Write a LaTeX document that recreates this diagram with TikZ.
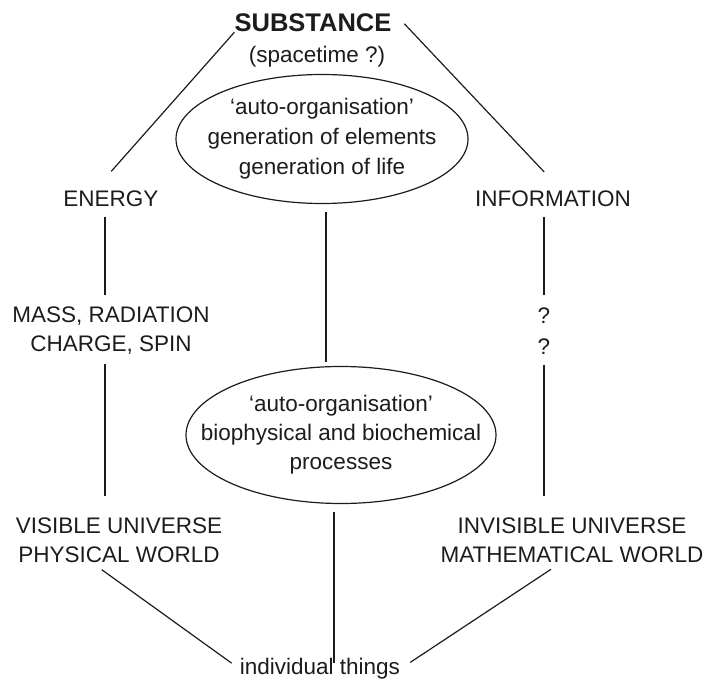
\documentclass[tikz,border=0pt]{standalone}
\usepackage{fontspec}
\setmainfont{Liberation Sans}
\usepackage{tikz}
\usetikzlibrary{shapes,calc}
\definecolor{ink}{RGB}{28,28,28}

\begin{document}
\begin{tikzpicture}[x=1pt,y=-1pt,
    every node/.style={inner sep=0pt,align=center,text=ink,font=\fontsize{22.5}{29}\selectfont},
    oval/.style={draw=ink,ellipse,line width=1.2pt,inner xsep=-40pt,inner ysep=-10pt},
    link/.style={draw=ink,line width=1.2pt}]

    \useasboundingbox (0,0) rectangle (710,682);

    \node[font=\fontsize{25.5}{30}\selectfont\bfseries] (subst) at (313,23) {SUBSTANCE};
    \node (space) at (317,57) {(spacetime ?)};
    \node[oval,minimum width=292pt,minimum height=129pt] (ell1) at (322,139)
        {‘auto-organisation’\\[1pt]generation of elements\\[1pt]generation of life};

    \node (energy) at (111,199) {ENERGY};
    \node (info) at (553,199) {INFORMATION};
    \node (mass) at (111,331) {MASS, RADIATION\\CHARGE, SPIN};
    \node (quest) at (544,331) {?\\[2pt]?};

    \node[oval,minimum width=310pt,minimum height=137pt] (ell2) at (341,435)
        {‘auto-organisation’\\biophysical and biochemical\\processes};

    \node (visible) at (119,540) {VISIBLE UNIVERSE\\PHYSICAL WORLD};
    \node (invis) at (572,540) {INVISIBLE UNIVERSE\\MATHEMATICAL WORLD};
    \node (things) at (320,669) {individual things};

    % top
    \draw[link,shorten >=26pt] (subst.south west) -- ([xshift=-17pt]energy.north);
    \draw[link,shorten <=1pt,shorten >=26pt] ([xshift=12pt]subst.east) -- ([xshift=9pt]info.north);

    % left and right columns
    \draw[link,shorten <=10pt,shorten >=12pt] ([xshift=-6pt]energy.south) -- ([xshift=-6pt]mass.north);
    \draw[link,shorten <=9pt,shorten >=21pt] ([xshift=-6pt]mass.south) -- ([xshift=-14pt]visible.north);
    \draw[link,shorten <=10pt,shorten >=12pt] ([xshift=-9pt]info.south) -- (quest.north);
    \draw[link,shorten <=10pt,shorten >=21pt] (quest.south) -- ([xshift=-28pt]invis.north);

    % middle
    \draw[link,shorten <=8pt,shorten >=4pt] ([xshift=4pt]ell1.south) -- ([xshift=-15pt]ell2.north);
    \draw[link,shorten <=8pt,shorten >=6pt] ([xshift=-7pt]ell2.south) -- ([xshift=14pt]things.center);

    % bottom
    \draw[link,shorten <=12pt,shorten >=10pt] ([xshift=-27pt]visible.south) -- (things.west);
    \draw[link,shorten <=12pt,shorten >=12pt] ([xshift=-11pt]invis.south) -- (things.east);
\end{tikzpicture}
\end{document}
